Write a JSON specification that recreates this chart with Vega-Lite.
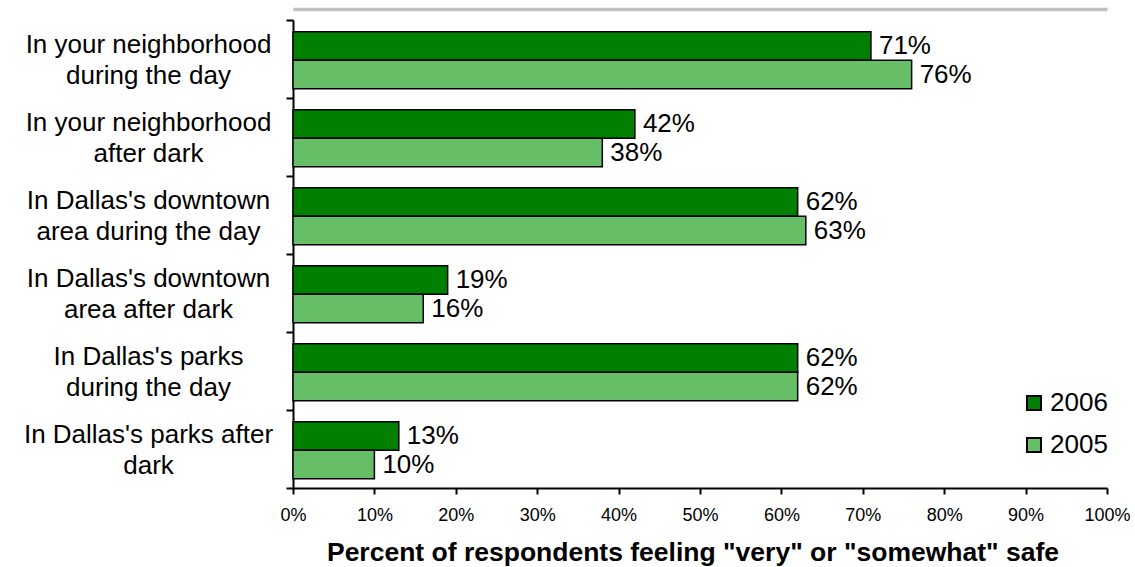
{
  "$schema": "https://vega.github.io/schema/vega-lite/v6.json",
  "width": 814,
  "height": 468,
  "autosize": {"type": "none"},
  "padding": {"left": 293, "top": 20, "right": 28, "bottom": 79},
  "background": "white",
  "config": {
    "font": "Liberation Sans",
    "view": {"stroke": null},
    "axis": {"domainColor": "black", "tickColor": "black", "labelColor": "black", "titleColor": "black", "grid": false}
  },
  "data": {
    "values": [
      {"item": "In your neighborhood during the day", "year": "2006", "pct": 0.71},
      {"item": "In your neighborhood during the day", "year": "2005", "pct": 0.76},
      {"item": "In your neighborhood after dark", "year": "2006", "pct": 0.42},
      {"item": "In your neighborhood after dark", "year": "2005", "pct": 0.38},
      {"item": "In Dallas's downtown area during the day", "year": "2006", "pct": 0.62},
      {"item": "In Dallas's downtown area during the day", "year": "2005", "pct": 0.63},
      {"item": "In Dallas's downtown area after dark", "year": "2006", "pct": 0.19},
      {"item": "In Dallas's downtown area after dark", "year": "2005", "pct": 0.16},
      {"item": "In Dallas's parks during the day", "year": "2006", "pct": 0.62},
      {"item": "In Dallas's parks during the day", "year": "2005", "pct": 0.62},
      {"item": "In Dallas's parks after dark", "year": "2006", "pct": 0.13},
      {"item": "In Dallas's parks after dark", "year": "2005", "pct": 0.10}
    ]
  },
  "layer": [
    {
      "mark": {"type": "bar", "stroke": "black", "strokeWidth": 1.5},
      "encoding": {
        "y": {
          "field": "item",
          "type": "nominal",
          "sort": null,
          "scale": {"paddingInner": 0, "paddingOuter": 0},
          "axis": {
            "title": null,
            "tickBand": "extent",
            "tickSize": 7,
            "tickWidth": 2,
            "domainWidth": 2,
            "labelAlign": "center",
            "labelBaseline": "middle",
            "labelPadding": 138,
            "labelOffset": -15,
            "labelFontSize": 26,
            "labelLineHeight": 31,
            "labelLimit": 0,
            "labelOverlap": false,
            "labelExpr": "datum.value == 'In your neighborhood during the day' ? ['In your neighborhood', 'during the day'] : datum.value == 'In your neighborhood after dark' ? ['In your neighborhood', 'after dark'] : datum.value == \"In Dallas's downtown area during the day\" ? [\"In Dallas's downtown\", 'area during the day'] : datum.value == \"In Dallas's downtown area after dark\" ? [\"In Dallas's downtown\", 'area after dark'] : datum.value == \"In Dallas's parks during the day\" ? [\"In Dallas's parks\", 'during the day'] : datum.value == \"In Dallas's parks after dark\" ? [\"In Dallas's parks after\", 'dark'] : ''"
          }
        },
        "yOffset": {
          "field": "year",
          "type": "nominal",
          "sort": ["2006", "2005"],
          "scale": {"paddingInner": 0, "paddingOuter": 0.368, "align": 0.56}
        },
        "x": {
          "field": "pct",
          "type": "quantitative",
          "scale": {"domain": [0, 1]},
          "axis": {
            "values": [0, 0.1, 0.2, 0.3, 0.4, 0.5, 0.6, 0.7, 0.8, 0.9, 1],
            "format": ".0%",
            "tickSize": 6,
            "tickWidth": 2,
            "domainWidth": 2,
            "labelFontSize": 18,
            "labelPadding": 12,
            "labelFlush": false,
            "title": "Percent of respondents feeling \"very\" or \"somewhat\" safe",
            "titleFontSize": 26.5,
            "titleFontWeight": "bold",
            "titlePadding": 15,
            "titleX": 399.5,
            "titleAlign": "center"
          }
        },
        "color": {
          "field": "year",
          "type": "nominal",
          "scale": {"domain": ["2006", "2005"], "range": ["#008000", "#66bf66"]},
          "legend": {
            "title": null,
            "orient": "none",
            "legendX": 728,
            "legendY": 370,
            "padding": 0,
            "symbolType": "square",
            "symbolSize": 196,
            "symbolStrokeColor": "black",
            "symbolStrokeWidth": 2,
            "symbolOpacity": 1,
            "labelFontSize": 26,
            "labelColor": "black",
            "labelOffset": 3,
            "rowPadding": 16
          }
        }
      }
    },
    {
      "mark": {"type": "text", "align": "left", "baseline": "middle", "dx": 8, "fontSize": 26, "color": "black"},
      "encoding": {
        "y": {"field": "item", "type": "nominal", "sort": null},
        "yOffset": {"field": "year", "type": "nominal", "sort": ["2006", "2005"]},
        "x": {
          "field": "pct",
          "type": "quantitative",
          "axis": {
            "orient": "top",
            "offset": 11,
            "domainColor": "#c0c0c0",
            "domainWidth": 3.5,
            "ticks": false,
            "labels": false,
            "title": null
          }
        },
        "text": {"field": "pct", "type": "quantitative", "format": ".0%"}
      }
    }
  ],
  "resolve": {"axis": {"x": "independent"}}
}
